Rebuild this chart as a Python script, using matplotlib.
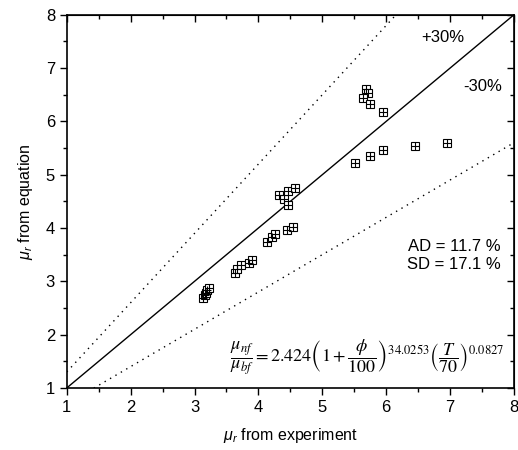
import matplotlib
matplotlib.use("Agg")
import matplotlib.pyplot as plt
from matplotlib.ticker import MultipleLocator
import numpy as np

# measured (experiment) vs predicted (equation) relative viscosity
mu_exp = [3.14, 3.16, 3.18, 3.20, 3.22,
          3.64, 3.67, 3.72, 3.86, 3.90,
          4.13, 4.22, 4.26, 4.44, 4.54,
          4.33, 4.40, 4.47, 4.57, 4.46,
          5.52, 5.74, 5.95, 6.45, 6.95,
          5.69, 5.71, 5.63, 5.74, 5.95]
mu_eq = [2.69, 2.74, 2.79, 2.83, 2.87,
         3.16, 3.23, 3.31, 3.35, 3.40,
         3.74, 3.83, 3.89, 3.96, 4.02,
         4.62, 4.55, 4.70, 4.75, 4.43,
         5.22, 5.35, 5.47, 5.54, 5.60,
         6.61, 6.54, 6.44, 6.32, 6.17]

xlim = [1, 8]
ylim = [1, 8]

plt.rcParams['font.family'] = ['Liberation Sans', 'DejaVu Sans']
plt.rcParams['mathtext.fontset'] = 'custom'
plt.rcParams['mathtext.it'] = 'Liberation Sans:italic'
plt.rcParams['mathtext.rm'] = 'Liberation Sans'

fig = plt.figure(figsize=(5.18, 4.5), dpi=100)
ax = fig.add_axes([0.129, 0.138, 0.863, 0.829])

# reference lines: perfect agreement and +/-30 %
xs = np.array(xlim, dtype=float)
ax.plot(xs, xs, color='black', lw=1.0)
ax.plot(xs, 1.3 * xs, color='black', lw=1.0, linestyle=(0, (1, 3.5)))
ax.plot(xs, 0.7 * xs, color='black', lw=1.0, linestyle=(0, (1, 3.5)))

# square-with-cross markers
ax.plot(mu_exp, mu_eq, linestyle='none', marker='s', ms=6,
        mfc='white', mec='black', mew=0.8)
ax.plot(mu_exp, mu_eq, linestyle='none', marker='+', ms=6,
        mec='black', mew=0.8)

ax.set_xlim(xlim)
ax.set_ylim(ylim)
ax.xaxis.set_major_locator(MultipleLocator(1))
ax.yaxis.set_major_locator(MultipleLocator(1))
ax.xaxis.set_minor_locator(MultipleLocator(0.5))
ax.yaxis.set_minor_locator(MultipleLocator(0.5))
ax.tick_params(which='major', direction='out', length=5, width=1, labelsize=12)
ax.tick_params(which='minor', direction='out', length=3, width=1)
for s in ax.spines.values():
    s.set_linewidth(1.2)

# inward ticks on top and right
top = ax.secondary_xaxis('top')
top.xaxis.set_major_locator(MultipleLocator(1))
top.xaxis.set_minor_locator(MultipleLocator(0.5))
top.set_xticklabels([])
right = ax.secondary_yaxis('right')
right.yaxis.set_major_locator(MultipleLocator(1))
right.yaxis.set_minor_locator(MultipleLocator(0.5))
right.set_yticklabels([])
for sec in (top, right):
    sec.tick_params(which='major', direction='in', length=5, width=1)
    sec.tick_params(which='minor', direction='in', length=3, width=1)

ax.set_xlabel(r'$\mu_r$ from experiment', fontsize=11.5, labelpad=8)
ax.set_ylabel(r'$\mu_r$ from equation', fontsize=11.5, labelpad=8)

ax.text(6.88, 7.57, '+30%', fontsize=12, ha='center', va='center')
ax.text(7.51, 6.65, '-30%', fontsize=12, ha='center', va='center')
ax.text(7.8, 3.66, 'AD = 11.7 %', fontsize=12, ha='right', va='center')
ax.text(7.8, 3.31, 'SD = 17.1 %', fontsize=12, ha='right', va='center')

eq = (r'$\dfrac{\mu_{nf}}{\mu_{bf}} = 2.424\left(1+\dfrac{\phi}{100}\right)^{34.0253}'
      r'\left(\dfrac{T}{70}\right)^{0.0827}$')
ax.text(3.55, 1.58, eq, fontsize=13, ha='left', va='center',
        math_fontfamily='stix')

fig.savefig('out.png', dpi=100)
